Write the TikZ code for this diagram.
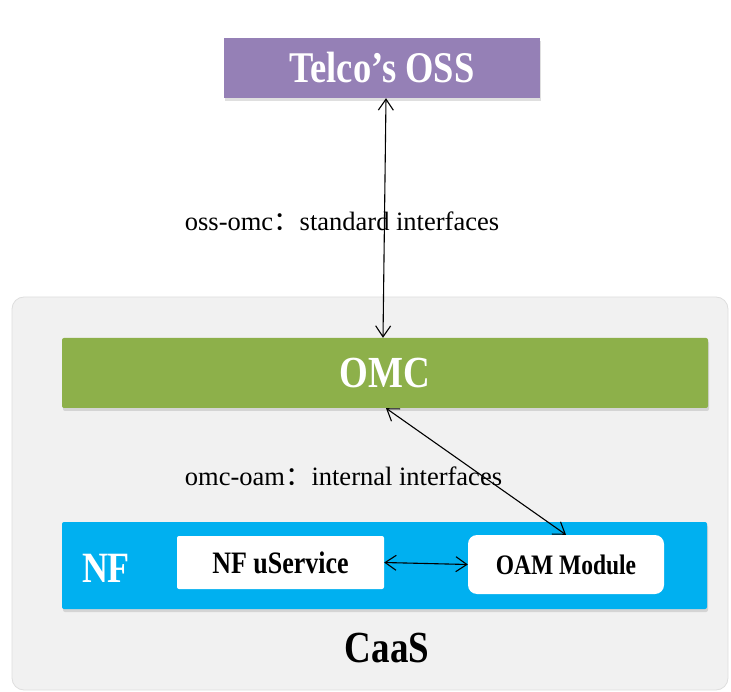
\documentclass[tikz,border=0pt]{standalone}
\usepackage{fontspec}
\setmainfont{Liberation Serif}
\newfontfamily\cjk{Noto Sans CJK SC}
\usetikzlibrary{arrows.meta,shadows,calc}
\definecolor{ossc}{RGB}{149,128,182}
\definecolor{omcc}{RGB}{141,176,74}
\definecolor{nfc}{RGB}{0,176,240}
\definecolor{caasc}{RGB}{241,241,241}
\definecolor{caasb}{RGB}{222,222,222}
\tikzset{
  shad/.style={drop shadow={shadow xshift=1pt,shadow yshift=-3pt,opacity=0.25,fill=black!50}},
  bar/.style={inner sep=0pt,shad},
  conn/.style={draw=black,line width=1.1pt,{Straight Barb[length=11pt,width=15pt]}-{Straight Barb[length=11pt,width=15pt]}},
  lbl/.style={inner sep=0pt,font=\fontsize{26.5}{26.5}\selectfont},
}
\newcommand{\tall}[1]{\scalebox{1}[1.2]{#1}}
\begin{document}
\begin{tikzpicture}[x=1pt,y=-1pt]
\useasboundingbox (0,0) rectangle (731,692);
% CaaS container
\node[draw=caasb,fill=caasc,rounded corners=12pt,minimum width=716pt,minimum height=393pt,inner sep=0pt,line width=0.8pt] (caas) at (370,493.5) {};
% Telco's OSS
\node[bar,fill=ossc,minimum width=316pt,minimum height=60pt] (oss) at (382,68)
  {\tall{\fontsize{36.5}{36.5}\selectfont\bfseries\color{white}Telco’s OSS}};
% OMC
\node[bar,fill=omcc,minimum width=646pt,minimum height=70pt,rounded corners=2pt] (omc) at (385,373)
  {\tall{\fontsize{37}{37}\selectfont\bfseries\color{white}OMC}};
% NF
\node[bar,fill=nfc,minimum width=645pt,minimum height=87pt,rounded corners=2pt] (nf) at (384.5,565.5) {};
\node[inner sep=0pt] (nflbl) at (106,568) {\tall{\fontsize{36}{36}\selectfont\bfseries\color{white}NF}};
\node[fill=white,inner sep=0pt,minimum width=207pt,minimum height=53pt,rounded corners=2pt] (usvc) at (280.5,562.5)
  {\tall{\fontsize{26}{26}\selectfont\bfseries NF uService}};
\node[fill=white,inner sep=0pt,minimum width=196pt,minimum height=59pt,rounded corners=9pt] (oam) at (566,564.5)
  {\tall{\fontsize{23.5}{23.5}\selectfont\bfseries OAM Module}};
% CaaS label
\node[inner sep=0pt] (caaslbl) at (387,648) {\tall{\fontsize{37}{37}\selectfont\bfseries CaaS}};
% Labels
\node[lbl] (l1) at (342,221) {oss-omc{\cjk ：}standard interfaces};
\node[lbl] (l2) at (343.5,476) {omc-oam{\cjk ：}internal interfaces};
% Connectors
\draw[conn] ($(oss.south)+(4,0)$) -- ($(omc.north)+(-2,0)$);
\draw[conn] ($(omc.south)+(1,0)$) -- (oam.north);
\draw[conn] (usvc.east) -- (oam.west);
\end{tikzpicture}
\end{document}
